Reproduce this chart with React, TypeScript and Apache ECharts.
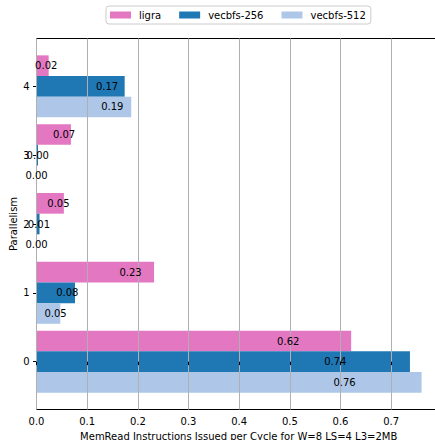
import React, { useEffect, useRef } from "react";
import * as echarts from "echarts";

// Parallelism levels and per-configuration read throughput
const categories = ["0", "1", "2", "3", "4"];
const seriesNames = ["ligra", "vecbfs-256", "vecbfs-512"];
const ligra = [0.621, 0.232, 0.054, 0.068, 0.024];
const vecbfs256 = [0.737, 0.076, 0.006, 0.003, 0.174];
const vecbfs512 = [0.76, 0.047, 0, 0, 0.187];
const xTicks = [0, 0.1, 0.2, 0.3, 0.4, 0.5, 0.6, 0.7];

const colors = ["#e377c2", "#1f77b4", "#aec7e8"];
const FONT = "DejaVu Sans";

export default function App() {
  const ref = useRef<HTMLDivElement>(null);

  useEffect(() => {
    if (!ref.current) return;
    const chart = echarts.init(ref.current, null, { renderer: "svg" });

    const values = [ligra, vecbfs256, vecbfs512];
    const xMax = Math.max(...ligra, ...vecbfs256, ...vecbfs512) * 1.05;
    const left = 36.5;
    const top = 38.5;
    const bottom = 30.5;
    const pxPerX = 506.7;
    const width = xMax * pxPerX; // right edge runs past the canvas
    // y range with margins around the category bands
    const yMin = -0.695;
    const yMax = 4.695;
    const plotH = 440 - top - bottom;
    const pxPerUnit = plotH / (yMax - yMin);
    const pad = (yMax - 4.5) * pxPerUnit;
    const barGrid = { left, width, top: top + pad, bottom: bottom + pad, outerBoundsMode: "none" };

    const barSeries = seriesNames.map((name, i) => ({
      name,
      type: "bar",
      xAxisIndex: 1,
      yAxisIndex: 1,
      data: values[i],
      barGap: "0%",
      barCategoryGap: "10%",
      itemStyle: { color: colors[i] },
      z: 2,
    }));

    // value labels sit in their own layer above the grid lines
    const labelSeries = seriesNames.map((name, i) => ({
      name: name + "-labels",
      type: "bar",
      xAxisIndex: 2,
      yAxisIndex: 2,
      data: values[i],
      barGap: "0%",
      barCategoryGap: "10%",
      itemStyle: { color: "rgba(0,0,0,0)" },
      z: 5,
      silent: true,
      label: {
        show: true,
        position: ["80%", "50%"],
        align: "center",
        verticalAlign: "middle",
        fontFamily: FONT,
        fontSize: 10,
        color: "#000",
        formatter: (p: any) => Number(p.value).toFixed(2),
      },
    }));

    chart.setOption({
      animation: false,
      textStyle: { fontFamily: FONT },
      legend: {
        data: seriesNames,
        left: 106,
        top: 6,
        orient: "horizontal",
        padding: [4, 5, 4, 4],
        itemWidth: 21,
        itemHeight: 7,
        itemGap: 18,
        borderColor: "#cccccc",
        borderWidth: 1,
        borderRadius: 3,
        icon: "rect",
        textStyle: { fontFamily: FONT, fontSize: 10, color: "#000", padding: [0, 0, 0, 3] },
      },
      grid: [
        {
          left,
          width,
          top,
          bottom,
          outerBoundsMode: "none",
          show: true,
          borderColor: "#000",
          borderWidth: 1,
          backgroundColor: "transparent",
          z: 0,
        },
        barGrid,
        barGrid,
      ],
      xAxis: [
        {
          type: "value",
          gridIndex: 0,
          min: 0,
          max: xMax,
          interval: 0.1,
          z: 3,
          axisLine: { show: false },
          axisTick: { show: true, length: 3.5, lineStyle: { color: "#000" } },
          axisLabel: {
            fontFamily: FONT,
            fontSize: 10,
            color: "#000",
            margin: 7,
            showMaxLabel: false,
            formatter: (v: number) => (xTicks.some((t) => Math.abs(t - v) < 1e-9) ? v.toFixed(1) : ""),
          },
          splitLine: { show: true, lineStyle: { color: "#b0b0b0", width: 1 } },
          name: "MemRead Instructions Issued per Cycle for W=8 LS=4 L3=2MB",
          nameLocation: "middle",
          nameGap: 19.5,
          nameTextStyle: { fontFamily: FONT, fontSize: 10, color: "#000" },
        },
        { type: "value", gridIndex: 1, min: 0, max: xMax, show: false },
        { type: "value", gridIndex: 2, min: 0, max: xMax, show: false },
      ],
      yAxis: [
        {
          type: "value",
          gridIndex: 0,
          min: yMin,
          max: yMax,
          axisLine: { show: false },
          axisTick: { show: false },
          axisLabel: { show: false },
          splitLine: { show: false },
          name: "Parallelism",
          nameLocation: "middle",
          nameGap: 18,
          nameTextStyle: { fontFamily: FONT, fontSize: 10, color: "#000" },
        },
        {
          type: "category",
          gridIndex: 1,
          data: categories,
          axisLine: { show: false },
          axisTick: { show: true, alignWithLabel: true, length: 3.5, lineStyle: { color: "#000" } },
          axisLabel: { fontFamily: FONT, fontSize: 10, color: "#000", margin: 7 },
          splitLine: { show: false },
        },
        { type: "category", gridIndex: 2, data: categories, show: false },
      ],
      series: [...barSeries, ...labelSeries],
    });

    return () => chart.dispose();
  }, []);

  return (
    <div
      ref={ref}
      style={{ position: "absolute", left: 0, top: 0, width: 435, height: 440, overflow: "hidden" }}
    />
  );
}
